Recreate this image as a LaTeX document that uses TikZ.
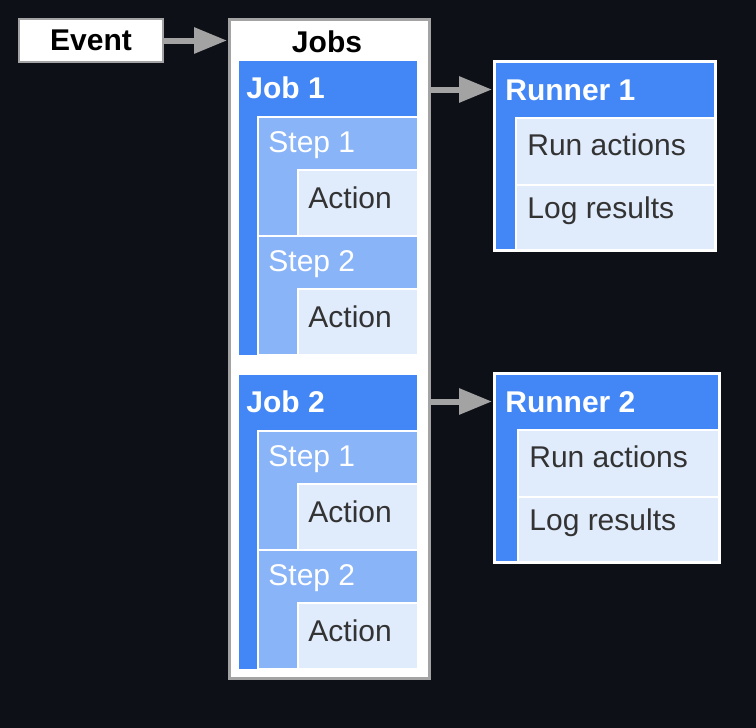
\documentclass[tikz,border=0pt]{standalone}
\usepackage{fontspec}
\setmainfont{Liberation Sans}
\usepackage{xcolor}
\usetikzlibrary{arrows.meta}
\definecolor{bgdark}{HTML}{0D1117}
\definecolor{jobblue}{HTML}{4287F5}
\definecolor{stepblue}{HTML}{8AB4F8}
\definecolor{actblue}{HTML}{E0EBFC}
\definecolor{flowgray}{HTML}{A3A3A3}
\definecolor{textdark}{HTML}{333333}
\tikzset{
  box/.style={anchor=north west, inner sep=0pt, outer sep=0pt, draw=white, line width=1pt},
  txt/.style={anchor=west, inner sep=0pt, font=\fontsize{15}{18}\selectfont},
  head/.style={txt, font=\fontsize{15}{18}\selectfont\bfseries, text=white},
  flow/.style={draw=flowgray, line width=3pt, -{Triangle[length=16.5pt, width=12.5pt]}, shorten >=1pt}
}
\begin{document}
\begin{tikzpicture}[x=0.5pt, y=-0.5pt]
  \fill[bgdark] (0,0) rectangle (756,728);
  \useasboundingbox (0,0) rectangle (756,728);
  % event and outer jobs box
  \node[box, draw=flowgray, fill=white, minimum width=72pt, minimum height=21.5pt] (event) at (19,19) {};
  \node[txt, anchor=center, font=\fontsize{15}{18}\selectfont\bfseries] (eventtxt) at (event.center) {Event};
  \node[box, draw=flowgray, line width=1.5pt, fill=white, minimum width=100pt, minimum height=329.5pt] (jobs) at (229,19) {};
  \node[txt, anchor=center, font=\fontsize{15}{18}\selectfont\bfseries] (jobstxt) at (327,42) {Jobs};
  \draw[flow] (event.east) -- (event.east -| jobs.west);
  % jobs with their steps
  \foreach \j/\y in {1/60, 2/374} {
    \node[box, fill=jobblue, minimum width=90pt, minimum height=148pt] (job\j) at (238,\y) {};
    \node[head] (job\j txt) at (246,\y+28) {Job \j};
    \foreach \s in {1,2} {
      \pgfmathsetmacro{\sy}{\y+57+(\s-1)*119}
      \node[box, fill=stepblue, minimum width=80pt, minimum height=59.5pt] (step\j\s) at (258,\sy) {};
      \node[txt, text=white] (step\j\s txt) at (268,\sy+28) {Step \s};
      \node[box, fill=actblue, minimum width=60pt, minimum height=33pt] (act\j\s) at (298,\sy+53) {};
      \node[txt, text=textdark] (act\j\s txt) at (308,\sy+81) {Action};
    }
  }
  % runners
  \foreach \r/\y/\w/\ix in {1/61/221/22, 2/373/225/24} {
    \node[box, fill=jobblue, line width=1.5pt, minimum width=\w*0.5pt, minimum height=94.5pt] (runner\r) at (494,\y) {};
    \node[box, draw=none, minimum width=\w*0.5pt, minimum height=28.5pt] (runhead\r) at (494,\y) {};
    \node[head] (runner\r txt) at (505,\y+29) {Runner \r};
    \node[box, fill=actblue, minimum width=(\w-\ix)*0.5pt, minimum height=33.5pt] (run\r) at (494+\ix,\y+57) {};
    \node[box, fill=actblue, minimum width=(\w-\ix)*0.5pt, minimum height=32.5pt] (log\r) at (494+\ix,\y+124) {};
    \node[txt, text=textdark] (run\r txt) at (505+\ix,\y+84) {Run actions};
    \node[txt, text=textdark] (log\r txt) at (505+\ix,\y+150) {Log results};
    \draw[flow] (jobs.east |- runhead\r.west) -- (runhead\r.west);
  }
\end{tikzpicture}
\end{document}
